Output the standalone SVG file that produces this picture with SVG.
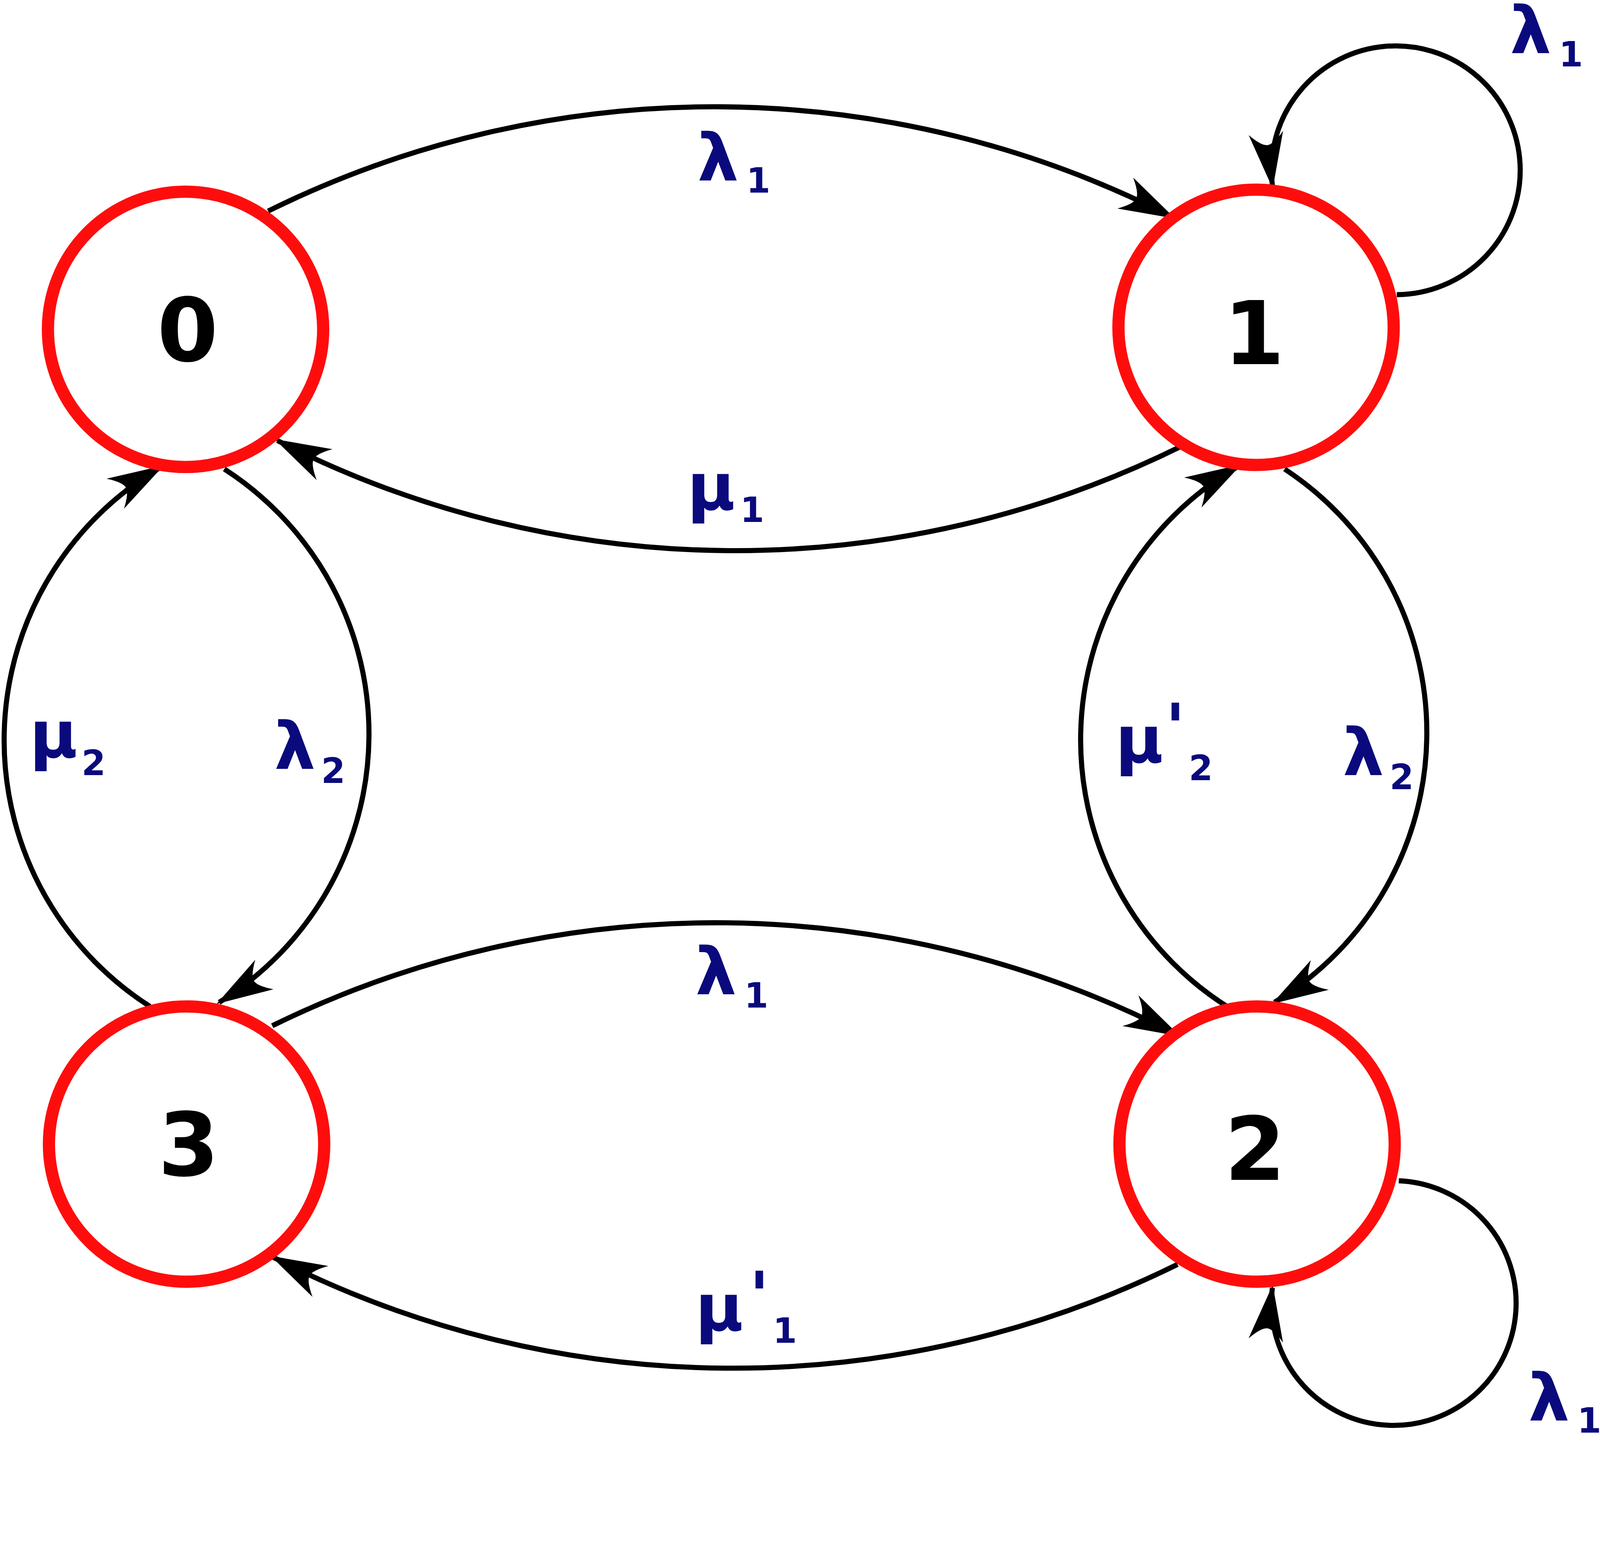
<svg xmlns="http://www.w3.org/2000/svg" width="4432" height="3970" viewBox="0 0 4432 3970">
<style>
.n{fill:#fff;stroke:#ff0d0d;stroke-width:12}
.e{fill:none;stroke:#000;stroke-width:5}
.d{font-family:"DejaVu Sans",sans-serif;font-weight:bold;font-size:86px;fill:#000;text-anchor:middle}
.l{font-family:"DejaVu Sans",sans-serif;font-weight:bold;font-size:64px;fill:#0a0a7d}
.s{font-family:"DejaVu Sans",sans-serif;font-weight:bold;font-size:34px;fill:#0a0a7d}
</style>
<defs>
<marker id="a" markerUnits="userSpaceOnUse" orient="auto" markerWidth="80" markerHeight="60" refX="0" refY="0" viewBox="-60 -30 70 60" overflow="visible">
<path d="M3,0 L-52,-17 Q-40,-6 -40,0 Q-40,6 -52,17 z" fill="#000"/>
</marker>
</defs>
<rect width="4432" height="3970" fill="#fff"/>
<g transform="scale(2.61)">
<g id="connectors">
<path class="e" d="M263,207 A987,987 0 0 1 1150,213" marker-end="url(#a)"/>
<path class="e" d="M1158,438 A987,987 0 0 1 272,432" marker-end="url(#a)"/>
<path class="e" d="M220,460 A309,309 0 0 1 215,983" marker-end="url(#a)"/>
<path class="e" d="M147,987 A310,310 0 0 1 158,458" marker-end="url(#a)"/>
<path class="e" d="M1260,460 A309,309 0 0 1 1250,983" marker-end="url(#a)"/>
<path class="e" d="M1205,988 A310,310 0 0 1 1215,457" marker-end="url(#a)"/>
<path class="e" d="M267,1006 A987,987 0 0 1 1155,1015" marker-end="url(#a)"/>
<path class="e" d="M1155,1240 A987,987 0 0 1 268,1233" marker-end="url(#a)"/>
<path class="e" d="M1370,289 A122,122 0 1 0 1248,182" marker-end="url(#a)"/>
<path class="e" d="M1372,1158 A120,120 0 1 1 1248,1263" marker-end="url(#a)"/>
</g>
<g id="n0"><circle class="n" cx="182" cy="323" r="135"/><text class="d" x="184" y="354">0</text></g>
<g id="n1"><circle class="n" cx="1232" cy="321" r="135"/><text class="d" x="1230" y="357">1</text></g>
<g id="n2"><circle class="n" cx="1233" cy="1122" r="135"/><text class="d" x="1231" y="1157">2</text></g>
<g id="n3"><circle class="n" cx="183" cy="1122" r="135"/><text class="d" x="185" y="1153">3</text></g>
<g id="labels">
<text class="l" x="684" y="177">λ</text><text class="s" x="732" y="189">1</text>
<text class="l" x="674" y="500">μ</text><text class="s" x="726" y="512">1</text>
<text class="l" x="29" y="743">μ</text><text class="s" x="80" y="760">2</text>
<text class="l" x="269" y="754">λ</text><text class="s" x="315" y="768">2</text>
<text class="l" x="1094" y="748">μ</text><text class="l" x="1143" y="736">'</text><text class="s" x="1166" y="765">2</text>
<text class="l" x="1317" y="760">λ</text><text class="s" x="1363" y="774">2</text>
<text class="l" x="682" y="975">λ</text><text class="s" x="730" y="988">1</text>
<text class="l" x="682" y="1305">μ</text><text class="l" x="735" y="1293">'</text><text class="s" x="758" y="1317">1</text>
<text class="l" x="1481" y="52">λ</text><text class="s" x="1529" y="65">1</text>
<text class="l" x="1499" y="1393">λ</text><text class="s" x="1547" y="1405">1</text>
</g>
</g>
</svg>
